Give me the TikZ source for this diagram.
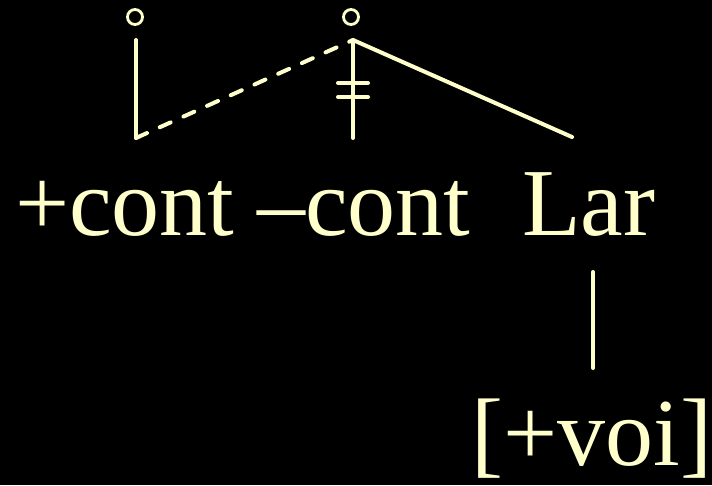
\documentclass[tikz,border=0pt]{standalone}
\usepackage{fontspec}
\setmainfont{Liberation Serif}
\definecolor{pale}{RGB}{255,255,204}
\begin{document}
\begin{tikzpicture}[x=1pt,y=-1pt,
  lbl/.style={text=pale,anchor=base west,inner sep=0pt,font=\fontsize{96}{100}\selectfont},
  assoc/.style={draw=pale,line width=4pt,line cap=round},
  delink/.style={assoc,dash pattern=on 12pt off 14pt},
  ring/.style={circle,draw=pale,line width=2.8pt,minimum size=15pt,inner sep=0pt}]
\fill[black] (0,0) rectangle (712,485);
\useasboundingbox (0,0) rectangle (712,485);
% root circles
\node[ring] (c1) at (135,17) {};
\node[ring] (c2) at (351,17) {};
% texts
\node[lbl] (pcont) at (15,235) {+cont};
\node[lbl] (mcont) at (257,235) {–cont};
\node[lbl] (lar) at (522,235) {Lar};
\node[lbl] (voi) at (471,465) {[+voi]};
% coordinates
\coordinate (top1) at (136,40);
\coordinate (bot1) at (136,138);
\coordinate (apex) at (353,40);
\coordinate (bot2) at (353,138);
\coordinate (larend) at (572,137);
\coordinate (lartop) at (593,272);
\coordinate (larbot) at (593,368);
\coordinate (barAl) at (338,83);
\coordinate (barAr) at (368,83);
\coordinate (barBl) at (338,97);
\coordinate (barBr) at (368,97);
% association lines
\draw[assoc] (top1) -- (bot1);
\draw[delink] (bot1) -- (apex);
\draw[assoc] (apex) -- (bot2);
\draw[assoc] (apex) -- (larend);
\draw[assoc] (barAl) -- (barAr);
\draw[assoc] (barBl) -- (barBr);
\draw[assoc] (lartop) -- (larbot);
\end{tikzpicture}
\end{document}
